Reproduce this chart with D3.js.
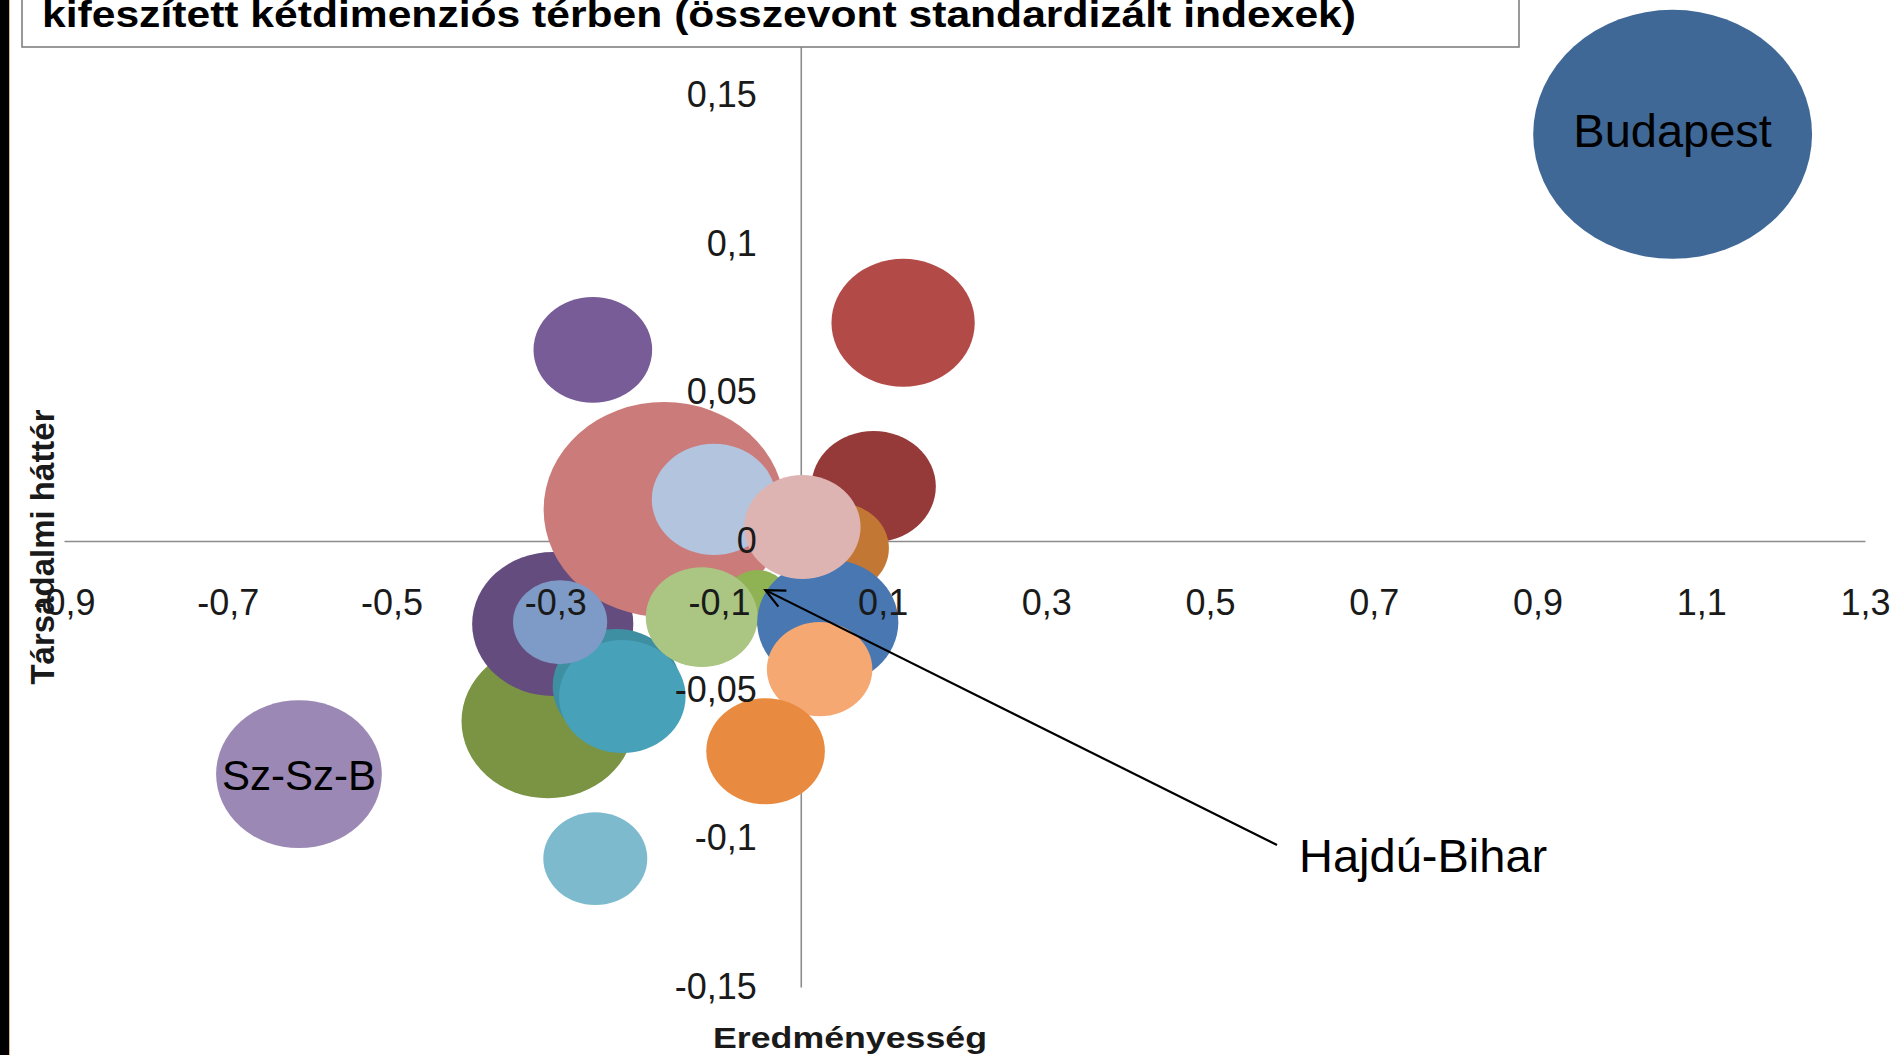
<!DOCTYPE html>
<html>
<head>
<meta charset="utf-8">
<script src="https://cdn.jsdelivr.net/npm/d3@7"></script>
<style>
  body { margin: 0; background: #fff; }
  svg { display: block; }
</style>
</head>
<body>
<div id="chart"></div>
<script>
// bubble data, in drawing order (bottom to top)
const regions = ["m01", "m02", "m03", "m04", "m05", "m06", "Hajdú-Bihar", "m08", "m09", "m10",
  "m11", "m12", "m13", "m14", "m15", "m16", "m17", "m18", "Sz-Sz-B", "Budapest"];
const eredmeny = [-0.309, -0.303, -0.167, -0.225, -0.218, -0.294, -0.053, -0.121, -0.106, 0.089,
  0.046, 0.033, 0.002, 0.023, -0.043, 0.125, -0.254, -0.251, -0.613, 1.065];
const hatter = [-0.0606, -0.0279, 0.0106, -0.0488, -0.0523, -0.0273, -0.0192, -0.0256, 0.0140, 0.0183,
  -0.0024, -0.0273, 0.0047, -0.0431, -0.0707, 0.0734, 0.0643, -0.1068, -0.0784, 0.1368];
const meret = [38.3, 33.4, 74.6, 21.0, 20.6, 11.4, 5.1, 16.1, 19.9, 19.9,
  13.1, 25.6, 17.4, 14.3, 18.1, 26.4, 18.1, 13.9, 35.3, 100];
const colors = ["#7A9444", "#644D7E", "#CB7B79", "#3E8FA2", "#47A1B9", "#7E9AC6", "#8FB253", "#ABC583", "#B3C4DF", "#953A38",
  "#C27834", "#4877B1", "#DEB4B3", "#F6A873", "#E88B40", "#B24A47", "#775C97", "#7DBACE", "#9B88B4", "#3F6897"];

// axis ticks
const xTicks = [-0.9, -0.7, -0.5, -0.3, -0.1, 0.1, 0.3, 0.5, 0.7, 0.9, 1.1, 1.3];
const xTickLabels = ["-0,9", "-0,7", "-0,5", "-0,3", "-0,1", "0,1", "0,3", "0,5", "0,7", "0,9", "1,1", "1,3"];
const yTicks = [-0.15, -0.1, -0.05, 0, 0.05, 0.1, 0.15];
const yTickLabels = ["-0,15", "-0,1", "-0,05", "0", "0,05", "0,1", "0,15"];

const W = 1895, H = 1055;
const data = regions.map((r, i) => ({ name: r, x: eredmeny[i], y: hatter[i], s: meret[i], c: colors[i] }));

const svg = d3.select("#chart").append("svg")
  .attr("width", W)
  .attr("height", H);

const x = d3.scaleLinear().domain([-0.9, 1.3]).range([64, 1865]);
const y = d3.scaleLinear().domain([-0.15, 0.2]).range([987, -53.6]);
const r = d3.scaleSqrt().domain([0, 100]).range([0, 124.5]);
const stretch = 1.12; // bubbles are a bit wider than tall in the picture

const fmtX = d => xTickLabels[xTicks.indexOf(d)];
const fmtY = d => yTickLabels[yTicks.indexOf(d)];

// axis lines (behind the bubbles)
const xAxisLine = svg.append("g")
  .attr("transform", `translate(0,${y(0)})`)
  .call(d3.axisBottom(x).tickValues(xTicks).tickSize(0).tickSizeOuter(0));
xAxisLine.selectAll(".tick").remove();
const yAxisLine = svg.append("g")
  .attr("transform", `translate(${x(0)},0)`)
  .call(d3.axisLeft(y).tickValues(yTicks).tickSize(0).tickSizeOuter(0));
yAxisLine.selectAll(".tick").remove();
svg.selectAll(".domain").attr("stroke", "#8c8c8c").attr("stroke-width", 1.6);

// bubbles
svg.append("g")
  .selectAll("ellipse")
  .data(data)
  .join("ellipse")
  .attr("cx", d => x(d.x))
  .attr("cy", d => y(d.y))
  .attr("rx", d => r(d.s) * stretch)
  .attr("ry", d => r(d.s))
  .attr("fill", d => d.c);

// tick labels (on top of the bubbles)
const xLab = svg.append("g")
  .attr("transform", `translate(0,${y(0)})`)
  .call(d3.axisBottom(x).tickValues(xTicks).tickFormat(fmtX).tickSize(0).tickPadding(48));
const yLab = svg.append("g")
  .attr("transform", `translate(${x(0)},0)`)
  .call(d3.axisLeft(y).tickValues(yTicks).tickFormat(fmtY).tickSize(0).tickPadding(44));
[xLab, yLab].forEach(g => {
  g.select(".domain").remove();
  g.selectAll("text")
    .attr("fill", "#1a1a1a")
    .style("font-family", "'Liberation Sans', Arial, sans-serif")
    .style("font-size", "36px");
});

// axis titles
svg.append("text")
  .attr("x", 850)
  .attr("y", 1048)
  .attr("text-anchor", "middle")
  .attr("textLength", 274)
  .attr("lengthAdjust", "spacingAndGlyphs")
  .style("font-family", "'Liberation Sans', Arial, sans-serif")
  .style("font-size", "30px")
  .style("font-weight", "bold")
  .attr("fill", "#1a1a1a")
  .text("Eredményesség");

svg.append("text")
  .attr("transform", "translate(54,547) rotate(-90)")
  .attr("text-anchor", "middle")
  .style("font-family", "'Liberation Sans', Arial, sans-serif")
  .style("font-size", "33px")
  .style("font-weight", "bold")
  .attr("fill", "#1a1a1a")
  .text("Társadalmi háttér");

// bubble labels
const budapest = data.find(d => d.name === "Budapest");
const szszb = data.find(d => d.name === "Sz-Sz-B");
const hb = data.find(d => d.name === "Hajdú-Bihar");

svg.append("text")
  .attr("x", x(budapest.x))
  .attr("y", y(budapest.y))
  .attr("dy", "0.27em")
  .attr("text-anchor", "middle")
  .style("font-family", "'Liberation Sans', Arial, sans-serif")
  .style("font-size", "47px")
  .text("Budapest");

svg.append("text")
  .attr("x", x(szszb.x))
  .attr("y", y(szszb.y))
  .attr("dy", "0.37em")
  .attr("text-anchor", "middle")
  .style("font-family", "'Liberation Sans', Arial, sans-serif")
  .style("font-size", "42px")
  .text("Sz-Sz-B");

// Hajdú-Bihar callout with an open arrow head
svg.append("defs").append("marker")
  .attr("id", "arrow")
  .attr("viewBox", "-22 -12 24 24")
  .attr("refX", 0)
  .attr("refY", 0)
  .attr("markerUnits", "userSpaceOnUse")
  .attr("markerWidth", 24)
  .attr("markerHeight", 24)
  .attr("orient", "auto")
  .append("path")
  .attr("d", "M-19,-9 L0,0 L-19,9")
  .attr("fill", "none")
  .attr("stroke", "#000")
  .attr("stroke-width", 2.2);

svg.append("line")
  .attr("x1", 1277)
  .attr("y1", 845)
  .attr("x2", x(hb.x) + 8)
  .attr("y2", y(hb.y) - 8)
  .attr("stroke", "#000")
  .attr("stroke-width", 2.2)
  .attr("marker-end", "url(#arrow)");

svg.append("text")
  .attr("x", 1299)
  .attr("y", 872)
  .style("font-family", "'Liberation Sans', Arial, sans-serif")
  .style("font-size", "47px")
  .text("Hajdú-Bihar");

// title box (cut at the top edge, as in the source picture)
svg.append("rect")
  .attr("x", 22)
  .attr("y", -20)
  .attr("width", 1497)
  .attr("height", 67)
  .attr("fill", "#fff")
  .attr("stroke", "#808080")
  .attr("stroke-width", 1.6);

svg.append("text")
  .attr("x", 42)
  .attr("y", 27)
  .attr("textLength", 1314)
  .attr("lengthAdjust", "spacingAndGlyphs")
  .style("font-family", "'Liberation Sans', Arial, sans-serif")
  .style("font-size", "36px")
  .style("font-weight", "bold")
  .text("kifeszített kétdimenziós térben (összevont standardizált indexek)");

// black bar on the left edge
svg.append("rect")
  .attr("x", 0).attr("y", 0)
  .attr("width", 9).attr("height", H)
  .attr("fill", "#000");
svg.append("line")
  .attr("x1", 9.5).attr("x2", 9.5)
  .attr("y1", 0).attr("y2", H)
  .attr("stroke", "#d8b68c")
  .attr("stroke-width", 1);
</script>
</body>
</html>
